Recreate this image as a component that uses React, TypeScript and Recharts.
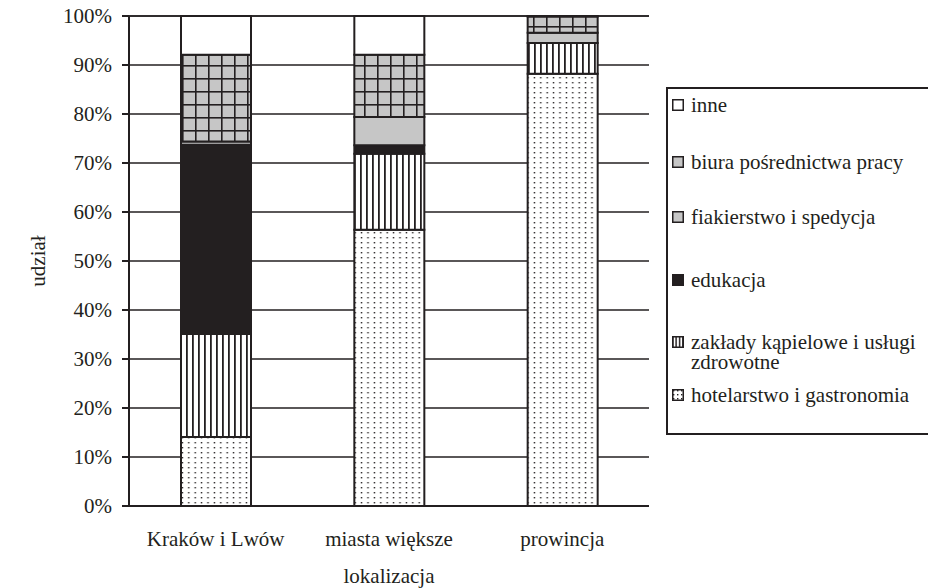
import { Bar, BarChart, CartesianGrid, Legend, XAxis, YAxis } from 'recharts'

const CATEGORIES = ['Kraków i Lwów', 'miasta większe', 'prowincja']
const HOTELARSTWO = [14.1, 56.4, 88.2]
const ZAKLADY = [21.0, 15.5, 6.3]
const EDUKACJA = [38.6, 1.7, 0]
const FIAKIERSTWO = [0.7, 5.8, 2.1]
const BIURA = [17.7, 12.7, 3.3]
const INNE = [7.9, 7.9, 0.1]
const Y_TICKS = [0, 10, 20, 30, 40, 50, 60, 70, 80, 90, 100]
const EDGE_TICKS = [0, 1, 2, 3]

const INK = '#231f20'
const GRAY = '#c6c6c6'
const FONT = '"Liberation Serif", "Times New Roman", Times, serif'
const FS = 21

// bottom to top in the stack
const SERIES = [
  { key: 'hotelarstwo', name: 'hotelarstwo i gastronomia', values: HOTELARSTWO, fill: 'url(#pDots)', swatch: 'url(#sDots)' },
  { key: 'zaklady', name: 'zakłady kąpielowe i usługi zdrowotne', values: ZAKLADY, fill: 'url(#pVert)', swatch: 'url(#sVert)' },
  { key: 'edukacja', name: 'edukacja', values: EDUKACJA, fill: INK, swatch: INK },
  { key: 'fiakierstwo', name: 'fiakierstwo i spedycja', values: FIAKIERSTWO, fill: GRAY, swatch: GRAY },
  { key: 'biura', name: 'biura pośrednictwa pracy', values: BIURA, fill: 'url(#pGrid)', swatch: GRAY },
  { key: 'inne', name: 'inne', values: INNE, fill: '#ffffff', swatch: '#ffffff' },
]

const data = CATEGORIES.map((name, i) => {
  const row: Record<string, string | number> = { name }
  SERIES.forEach((s) => {
    row[s.key] = s.values[i]
  })
  return row
})

// legend rows, top offsets inside the box (legend reads top-down)
const LEGEND_TOPS = [6, 63, 118, 181, 243, 296]

function Patterns() {
  return (
    <svg width={0} height={0} style={{ position: 'absolute' }}>
      <defs>
        <pattern id="pDots" width={6.4} height={5} patternUnits="userSpaceOnUse">
          <rect width={6.4} height={5} fill="#fff" />
          <rect x={2.5} y={2} width={1.4} height={1.4} fill={INK} />
        </pattern>
        <pattern id="pVert" width={6} height={10} patternUnits="userSpaceOnUse">
          <rect width={6} height={10} fill="#fff" />
          <rect x={0} y={0} width={1.8} height={10} fill={INK} />
        </pattern>
        <pattern id="pGrid" width={13} height={13} patternUnits="userSpaceOnUse">
          <rect width={13} height={13} fill={GRAY} />
          <rect x={0} y={0} width={1.6} height={13} fill={INK} />
          <rect x={0} y={0} width={13} height={1.6} fill={INK} />
        </pattern>
        <pattern id="sDots" width={4} height={4} patternUnits="userSpaceOnUse">
          <rect width={4} height={4} fill="#fff" />
          <rect x={1} y={1} width={1.4} height={1.4} fill={INK} />
        </pattern>
        <pattern id="sVert" width={3.4} height={12} patternUnits="userSpaceOnUse">
          <rect width={3.4} height={12} fill="#fff" />
          <rect x={0} y={0} width={1.5} height={12} fill={INK} />
        </pattern>
      </defs>
    </svg>
  )
}

function LegendBox() {
  const items = [...SERIES].reverse()
  return (
    <div
      style={{
        position: 'relative',
        boxSizing: 'border-box',
        width: 262,
        height: 348,
        border: `2px solid ${INK}`,
        borderRight: 'none',
        fontFamily: FONT,
        fontSize: FS,
        lineHeight: '20px',
        color: INK,
      }}
    >
      {items.map((s, i) => (
        <div
          key={s.key}
          style={{ position: 'absolute', left: 4, top: LEGEND_TOPS[i], display: 'flex', alignItems: 'flex-start', width: 254 }}
        >
          <svg width={12} height={12} style={{ marginTop: 4, flex: 'none' }}>
            <rect x={0.75} y={0.75} width={10.5} height={10.5} fill={s.swatch} stroke={INK} strokeWidth={1.5} />
          </svg>
          <span style={{ marginLeft: 7 }}>{s.name}</span>
        </div>
      ))}
    </div>
  )
}

function YLabel({ viewBox }: { viewBox?: { x: number; y: number; width: number; height: number } }) {
  if (!viewBox) return null
  const cx = viewBox.x + 38
  const cy = viewBox.y + viewBox.height / 2
  return (
    <text
      x={cx}
      y={cy}
      transform={`rotate(-90 ${cx} ${cy})`}
      textAnchor="middle"
      dominantBaseline="central"
      fontSize={FS}
      fill={INK}
    >
      udział
    </text>
  )
}

export default function App() {
  return (
    <div style={{ position: 'absolute', left: 0, top: 0, width: 928, height: 588, fontFamily: FONT, background: '#fff' }}>
      <Patterns />
      <BarChart width={928} height={588} data={data} margin={{ top: 16, right: 279, left: 0, bottom: 0 }}>
        <CartesianGrid vertical={false} stroke={INK} strokeWidth={1.6} />
        <XAxis
          xAxisId="edges"
          type="number"
          domain={[0, 3]}
          ticks={EDGE_TICKS}
          allowDataOverflow
          height={0}
          tick={false}
          tickSize={6}
          tickLine={{ stroke: INK, strokeWidth: 2 }}
          axisLine={{ stroke: INK, strokeWidth: 2 }}
        />
        <XAxis
          dataKey="name"
          height={82}
          tickLine={false}
          tickSize={6}
          tickMargin={19}
          axisLine={{ stroke: INK, strokeWidth: 2 }}
          tick={{ fontSize: FS, fill: INK }}
          label={{ value: 'lokalizacja', position: 'insideBottom', offset: 5, fontSize: FS, fill: INK }}
        />
        <XAxis
          xAxisId="top"
          dataKey="name"
          orientation="top"
          height={0}
          tick={false}
          tickLine={false}
          axisLine={{ stroke: '#9a9a9a', strokeWidth: 2 }}
        />
        <YAxis
          domain={[0, 100]}
          ticks={Y_TICKS}
          width={129}
          tickSize={7}
          tickMargin={10}
          tickFormatter={(v: number) => `${v}%`}
          tick={{ fontSize: FS, fill: INK }}
          tickLine={{ stroke: INK, strokeWidth: 2 }}
          axisLine={{ stroke: INK, strokeWidth: 2 }}
          label={<YLabel />}
        />
        <YAxis
          yAxisId="right"
          orientation="right"
          domain={[0, 100]}
          width={0}
          tick={false}
          tickLine={false}
          axisLine={{ stroke: '#9a9a9a', strokeWidth: 2 }}
        />
        <Legend
          layout="horizontal"
          align="center"
          verticalAlign="middle"
          wrapperStyle={{ left: 666, top: 87, width: 262, height: 348 }}
          content={() => <LegendBox />}
        />
        {SERIES.map((s) => (
          <Bar
            key={s.key}
            dataKey={s.key}
            name={s.name}
            stackId="a"
            barSize={70}
            fill={s.fill}
            stroke={INK}
            strokeWidth={2}
            isAnimationActive={false}
          />
        ))}
      </BarChart>
    </div>
  )
}
